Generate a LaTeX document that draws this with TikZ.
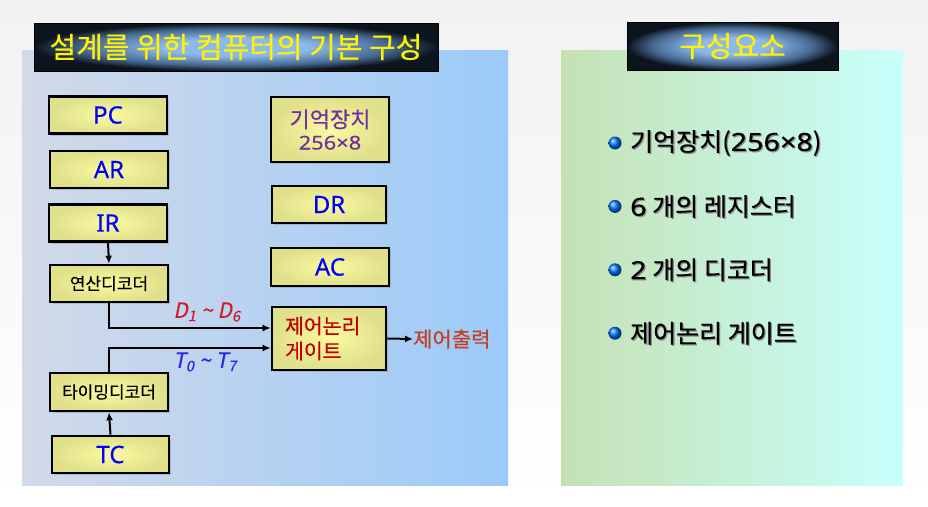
\documentclass[tikz,border=0pt]{standalone}
\usepackage{fontspec}
\setmainfont{Noto Sans CJK KR}[FakeBold=0.35]
\newfontfamily\slantfont{Noto Sans CJK KR}[FakeSlant=0.2,FakeBold=0.35]
\newfontfamily\latinfont{Noto Sans}[FakeBold=0.35]
\newfontfamily\latinwide{Noto Sans}[FakeBold=0.35,FakeStretch=1.15]
\usetikzlibrary{shadows,arrows.meta}
\definecolor{regblue}{RGB}{0,0,255}
\definecolor{mempurple}{RGB}{112,48,160}
\definecolor{ctlred}{RGB}{192,0,0}
\definecolor{outred}{RGB}{196,64,32}
\definecolor{dred}{RGB}{205,30,40}
\definecolor{tblue}{RGB}{40,40,235}
\definecolor{boxin}{RGB}{250,250,160}
\definecolor{boxout}{RGB}{224,224,140}
\definecolor{ttlin}{RGB}{140,185,235}
\definecolor{ttlmid}{RGB}{70,105,145}
\definecolor{ttlout}{RGB}{12,20,30}
\definecolor{leftA}{RGB}{210,218,232}
\definecolor{leftB}{RGB}{155,202,250}
\definecolor{rightA}{RGB}{197,225,180}
\definecolor{rightB}{RGB}{200,255,252}
\definecolor{pageA}{RGB}{242,242,242}
\pgfdeclareradialshading{ttlglow}{\pgfpoint{0bp}{0bp}}{color(0bp)=(ttlin); color(9bp)=(ttlin); color(19bp)=(ttlmid); color(25bp)=(ttlout); color(50bp)=(ttlout)}
\tikzset{
  regbox/.style={draw=black, line width=2.6pt, shading=radial, inner color=boxin, outer color=boxout,
    drop shadow={shadow xshift=2pt, shadow yshift=-2pt, opacity=0.35},
    minimum width=118pt, minimum height=37pt, inner sep=0pt},
  titlebox/.style={draw=black, line width=0.6pt, shading=ttlglow,
    minimum height=48pt, inner sep=0pt, text=yellow, font=\fontsize{29}{31}\selectfont},
  wire/.style={line width=2pt, -{Latex[length=8pt,width=7pt]}},
}
\begin{document}
\begin{tikzpicture}[x=1pt,y=-1pt]
\useasboundingbox (0,0) rectangle (928,506);
\shade[top color=pageA, bottom color=white] (0,0) rectangle (928,506);

\shade[left color=leftA, right color=leftB] (22,50) rectangle (508,485);
\shade[left color=rightA, right color=rightB] (561,50) rectangle (903,485);

\node[titlebox, minimum width=404pt] (ttl) at (236,47) {설계를 위한 컴퓨터의 기본 구성};
\node[titlebox, minimum width=211pt] (ttr) at (732.5,46) {구성요소};

\begin{scope}[every node/.append style={font=\latinfont\fontsize{24}{26}\selectfont, text=regblue}]
\node[regbox] (pc) at (108,115) {PC};
\node[regbox] (ar) at (109,169.5) {AR};
\node[regbox] (ir) at (108,223) {IR};
\node[regbox, minimum width=117pt] (tc) at (110.5,454.5) {TC};
\node[regbox, minimum width=114pt] (dr) at (329,204.5) {DR};
\node[regbox, minimum height=38pt] (ac) at (330,267) {AC};
\end{scope}

\node[regbox, minimum height=65pt, align=center, text=mempurple, font=\fontsize{22}{25}\selectfont]
  (mem) at (330,129.5) {기억장치\\[-3pt]{\latinwide\fontsize{19}{21}\selectfont 256×8}};

\node[regbox, font=\fontsize{17}{19}\selectfont] (opdec) at (109,283.5) {연산디코더};
\node[regbox, minimum height=38pt, font=\fontsize{17}{19}\selectfont] (timdec) at (109,392) {타이밍디코더};

\node[regbox, minimum width=0pt, minimum height=63pt, text width=88pt, inner xsep=13pt, align=left,
  text=ctlred, font=\fontsize{20.5}{25}\selectfont] (gate) at (329,338.5) {제어논리\\게이트};

\node[anchor=west, inner sep=0pt, text=outred, font=\fontsize{21}{23}\selectfont] (out) at (413,339) {제어출력};

\draw[wire] (ir.south) -- (opdec.north);
\draw[wire] (tc.north) -- (timdec.south);
\draw[wire] (opdec.south) |- ([yshift=10.5pt]gate.west);
\draw[wire] (timdec.north) |- ([yshift=-9.5pt]gate.west);
\draw[wire] (gate.east) -- (out.west);

\node[text=dred, font=\slantfont\fontsize{21}{23}\selectfont] (dlab) at (207,312)
  {D\textsubscript{1} \textasciitilde{} D\textsubscript{6}};
\node[text=tblue, font=\slantfont\fontsize{21}{23}\selectfont] (tlab) at (205,362)
  {T\textsubscript{0} \textasciitilde{} T\textsubscript{7}};

\foreach \t [count=\i] in {기억장치({\latinwide 256×8}), {\latinwide 6} 개의 레지스터, {\latinwide 2} 개의 디코더, 제어논리 게이트} {
\shade[ball color=blue!55!cyan] (615,{143+63.4*(\i-1)}) circle (6.5pt);
\node[anchor=west, inner sep=0pt, text=black!45, font=\fontsize{25}{27}\selectfont] at (631.2,{144.2+63.4*(\i-1)}) {\t};
\node[anchor=west, inner sep=0pt, font=\fontsize{25}{27}\selectfont] (item\i) at (630,{143+63.4*(\i-1)}) {\t};
}

\end{tikzpicture}
\end{document}
